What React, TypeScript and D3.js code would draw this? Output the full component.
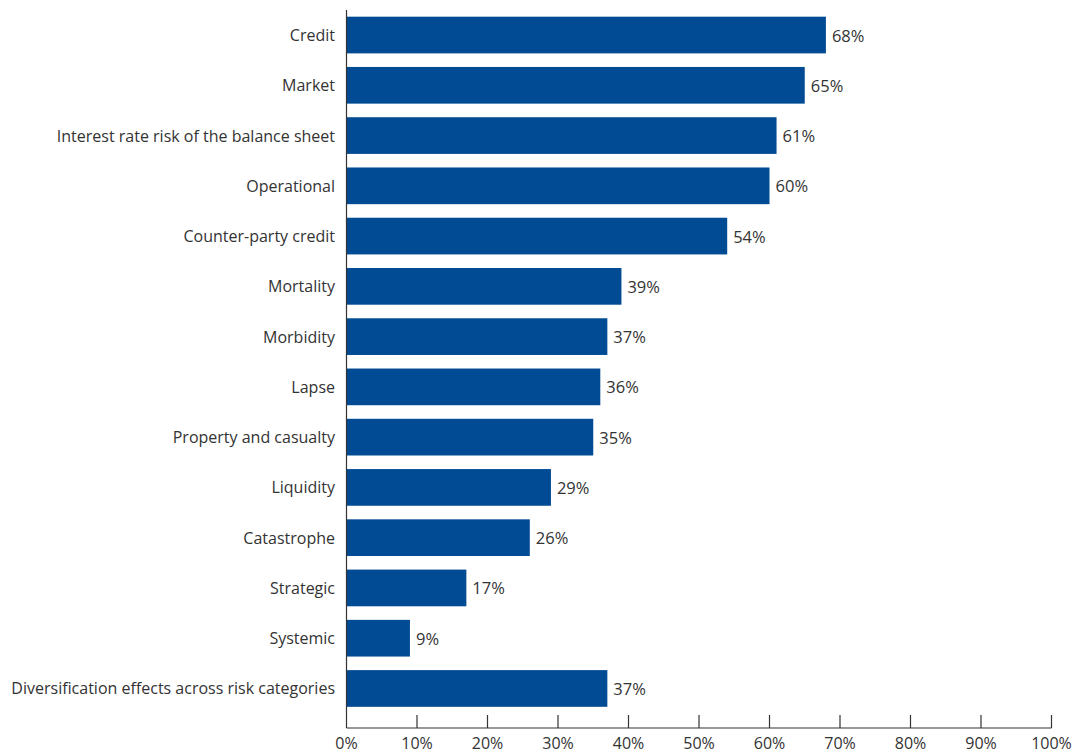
import React from "react";
import * as d3 from "d3";

const categories = [
  "Credit",
  "Market",
  "Interest rate risk of the balance sheet",
  "Operational",
  "Counter-party credit",
  "Mortality",
  "Morbidity",
  "Lapse",
  "Property and casualty",
  "Liquidity",
  "Catastrophe",
  "Strategic",
  "Systemic",
  "Diversification effects across risk categories",
];
const values = [68, 65, 61, 60, 54, 39, 37, 36, 35, 29, 26, 17, 9, 37];
const ticks = [0, 10, 20, 30, 40, 50, 60, 70, 80, 90, 100];

const W = 1075;
const H = 755;
const FONT = "'Open Sans', sans-serif";
const TEXT = "#333333";
const BAR = "#004b93";

export default function App() {
  const x = d3.scaleLinear().domain([0, 100]).range([346.5, 1051.5]);
  const y = d3
    .scaleBand<string>()
    .domain(categories)
    .range([10, 713.5])
    .paddingInner(0.27)
    .paddingOuter(0.133);
  const axisY = 728;
  return (
    <svg
      width={W}
      height={H}
      style={{ position: "absolute", left: 0, top: 0 }}
      fontFamily={FONT}
    >
      {categories.map((c, i) => (
        <g key={c}>
          <rect
            x={x(0)}
            y={y(c)!}
            width={x(values[i]) - x(0)}
            height={y.bandwidth()}
            fill={BAR}
          />
          <text
            x={335}
            y={y(c)! + y.bandwidth() / 2}
            textAnchor="end"
            dominantBaseline="central"
            fontSize={16}
            fill={TEXT}
          >
            {c}
          </text>
          <text
            x={x(values[i]) + 6}
            y={y(c)! + y.bandwidth() / 2}
            dominantBaseline="central"
            fontSize={16.5}
            fill={TEXT}
          >
            {values[i]}%
          </text>
        </g>
      ))}
      <line x1={x(0)} x2={x(0)} y1={10} y2={axisY} stroke={TEXT} strokeWidth={1.2} />
      <line x1={x(0)} x2={x(100)} y1={axisY} y2={axisY} stroke={TEXT} strokeWidth={1.2} />
      {ticks.map((t) => (
        <g key={t}>
          {t > 0 && (
            <line x1={x(t)} x2={x(t)} y1={axisY - 13} y2={axisY} stroke={TEXT} strokeWidth={1.2} />
          )}
          <text
            x={x(t)}
            y={743}
            textAnchor="middle"
            dominantBaseline="central"
            fontSize={16}
            fill={TEXT}
          >
            {t}%
          </text>
        </g>
      ))}
    </svg>
  );
}
